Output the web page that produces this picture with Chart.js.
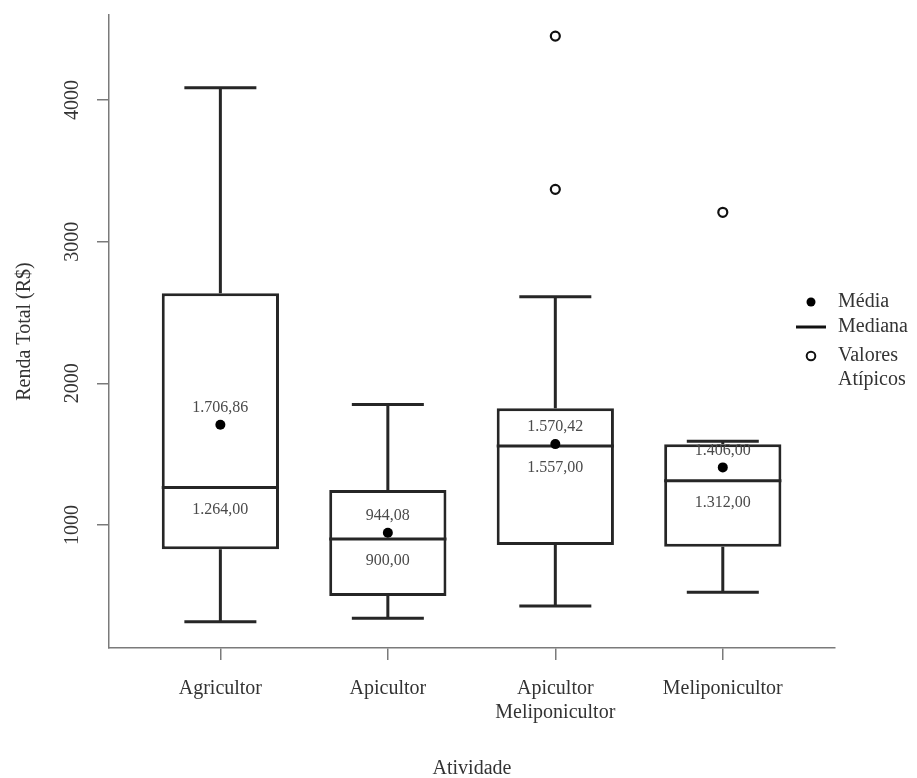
<!DOCTYPE html>
<html lang="pt-BR">
<head>
<meta charset="utf-8">
<title>Renda Total por Atividade</title>
<script src="https://cdn.jsdelivr.net/npm/chart.js@4.4.1/dist/chart.umd.min.js"></script>
<style>
  html, body { margin: 0; padding: 0; background: #ffffff; }
  canvas { display: block; }
</style>
</head>
<body>
<canvas id="chart" width="917" height="778"></canvas>
<script>
// Renda total (R$) por atividade: resumo de cinco números, média e valores atípicos
const categories = ['Agricultor', 'Apicultor', ['Apicultor', 'Meliponicultor'], 'Meliponicultor'];
const whiskerLow  = [317, 341, 428, 524];
const q1          = [828, 498, 858, 846];
const median      = [1264.00, 900.00, 1557.00, 1312.00];
const q3          = [2635, 1247, 1823, 1569];
const whiskerHigh = [4086, 1851, 2611, 1590];
const mean        = [1706.86, 944.08, 1570.42, 1406.00];
const outliers    = [[], [], [4451, 3369], [3207]];
const yTicks      = [1000, 2000, 3000, 4000];
const legendItems = ['Média', 'Mediana', ['Valores', 'Atípicos']];

const SERIF = '"Liberation Serif", "Times New Roman", serif';
const INK = '#262626';
const AXIS = '#7a7a7a';
const TEXT = '#333333';
const BOX_W = 0.7;   // box width, in category units
const CAP_W = 0.43;  // whisker cap width, in category units

// número no formato brasileiro: 1.706,86
function fmtBR(v) {
  const [int, dec] = v.toFixed(2).split('.');
  return int.replace(/\B(?=(\d{3})+(?!\d))/g, '.') + ',' + dec;
}

const boxData = categories.map((c, i) => ({ x: i, y: [q1[i], q3[i]] }));
const meanData = mean.map((m, i) => ({ x: i, y: m }));
const outlierData = [];
outliers.forEach((list, i) => list.forEach(v => outlierData.push({ x: i, y: v })));

// medians, whiskers and caps, drawn right after the boxes
const boxParts = {
  id: 'boxParts',
  afterDatasetDraw(chart, args) {
    if (args.index !== 0) return;
    const { ctx, scales: { x, y } } = chart;
    ctx.save();
    ctx.strokeStyle = INK;
    ctx.lineWidth = 3;
    ctx.lineCap = 'butt';
    categories.forEach((c, i) => {
      const cx = x.getPixelForValue(i);
      const capL = x.getPixelForValue(i - CAP_W / 2);
      const capR = x.getPixelForValue(i + CAP_W / 2);
      const boxL = x.getPixelForValue(i - BOX_W / 2);
      const boxR = x.getPixelForValue(i + BOX_W / 2);
      ctx.beginPath();
      // upper whisker
      ctx.moveTo(cx, y.getPixelForValue(q3[i]));
      ctx.lineTo(cx, y.getPixelForValue(whiskerHigh[i]));
      ctx.moveTo(capL, y.getPixelForValue(whiskerHigh[i]));
      ctx.lineTo(capR, y.getPixelForValue(whiskerHigh[i]));
      // lower whisker
      ctx.moveTo(cx, y.getPixelForValue(q1[i]));
      ctx.lineTo(cx, y.getPixelForValue(whiskerLow[i]));
      ctx.moveTo(capL, y.getPixelForValue(whiskerLow[i]));
      ctx.lineTo(capR, y.getPixelForValue(whiskerLow[i]));
      // median
      ctx.moveTo(boxL, y.getPixelForValue(median[i]));
      ctx.lineTo(boxR, y.getPixelForValue(median[i]));
      ctx.stroke();
    });
    ctx.restore();
  }
};

// value labels, rotated y tick labels and the side legend
const annotations = {
  id: 'annotations',
  afterDraw(chart) {
    const { ctx, scales: { x, y } } = chart;
    ctx.save();

    // mean above its dot, median below its line
    ctx.font = '16px ' + SERIF;
    ctx.fillStyle = '#4a4a4a';
    ctx.textAlign = 'center';
    ctx.textBaseline = 'middle';
    categories.forEach((c, i) => {
      const cx = x.getPixelForValue(i);
      ctx.fillText(fmtBR(mean[i]), cx, y.getPixelForValue(mean[i]) - 17);
      ctx.fillText(fmtBR(median[i]), cx, y.getPixelForValue(median[i]) + 22);
    });

    // y tick labels, written along the axis
    ctx.font = '20px ' + SERIF;
    ctx.fillStyle = TEXT;
    y.ticks.forEach(t => {
      ctx.save();
      ctx.translate(73, y.getPixelForValue(t.value));
      ctx.rotate(-Math.PI / 2);
      ctx.fillText(String(t.value), 0, 0);
      ctx.restore();
    });

    // legend
    const lx = 811, tx = 838;
    const rows = [302, 327, 356];
    ctx.textAlign = 'left';
    ctx.font = '20px ' + SERIF;
    ctx.fillStyle = TEXT;
    legendItems.forEach((label, k) => {
      const lines = Array.isArray(label) ? label : [label];
      lines.forEach((ln, j) => ctx.fillText(ln, tx, rows[k] + j * 24));
    });
    ctx.fillStyle = '#000';
    ctx.beginPath();
    ctx.arc(lx, rows[0], 4.5, 0, Math.PI * 2);
    ctx.fill();
    ctx.strokeStyle = '#111';
    ctx.lineWidth = 3;
    ctx.beginPath();
    ctx.moveTo(796, rows[1]);
    ctx.lineTo(826, rows[1]);
    ctx.stroke();
    ctx.lineWidth = 2;
    ctx.fillStyle = '#fff';
    ctx.beginPath();
    ctx.arc(lx, rows[2], 4.3, 0, Math.PI * 2);
    ctx.fill();
    ctx.stroke();

    ctx.restore();
  }
};

new Chart(document.getElementById('chart'), {
  type: 'bar',
  data: {
    datasets: [
      {
        label: 'Caixa',
        data: boxData,
        backgroundColor: '#ffffff',
        borderColor: INK,
        borderWidth: 3,
        borderSkipped: false,
        categoryPercentage: 1,
        barPercentage: BOX_W,
        order: 3
      },
      {
        type: 'scatter',
        label: 'Média',
        data: meanData,
        pointStyle: 'circle',
        pointRadius: 5,
        pointBackgroundColor: '#000',
        pointBorderWidth: 0,
        order: 2
      },
      {
        type: 'scatter',
        label: 'Valores Atípicos',
        data: outlierData,
        pointStyle: 'circle',
        pointRadius: 4.5,
        pointBackgroundColor: '#fff',
        pointBorderColor: '#111',
        pointBorderWidth: 2.2,
        order: 1
      }
    ]
  },
  options: {
    responsive: false,
    animation: false,
    events: [],
    layout: { padding: { top: 15, right: 82, bottom: 0, left: 0 } },
    plugins: {
      legend: { display: false },
      tooltip: { enabled: false }
    },
    scales: {
      x: {
        type: 'linear',
        min: -0.665,
        max: 3.67,
        offset: false,
        afterBuildTicks(scale) { scale.ticks = categories.map((c, i) => ({ value: i })); },
        afterFit(scale) { scale.height = 130; },
        grid: {
          display: true,
          offset: false,
          drawOnChartArea: false,
          drawTicks: true,
          tickLength: 12,
          color: AXIS,
          lineWidth: 1.5
        },
        border: { display: true, color: AXIS, width: 1.5 },
        ticks: {
          autoSkip: false,
          maxRotation: 0,
          minRotation: 0,
          padding: 17,
          color: TEXT,
          font: { family: SERIF, size: 20, lineHeight: 1.2 },
          callback: v => categories[v]
        },
        title: {
          display: true,
          text: 'Atividade',
          color: TEXT,
          font: { family: SERIF, size: 20 },
          padding: { top: 0, bottom: -3 }
        }
      },
      y: {
        type: 'linear',
        min: 131,
        max: 4600,
        afterBuildTicks(scale) { scale.ticks = yTicks.map(v => ({ value: v })); },
        afterFit(scale) { scale.width = 109; },
        grid: {
          display: true,
          drawOnChartArea: false,
          drawTicks: true,
          tickLength: 12,
          color: AXIS,
          lineWidth: 1.5
        },
        border: { display: true, color: AXIS, width: 1.5 },
        ticks: { display: false },
        title: {
          display: true,
          text: 'Renda Total (R$)',
          color: TEXT,
          font: { family: SERIF, size: 20 },
          padding: { top: 13, bottom: 0 }
        }
      }
    }
  },
  plugins: [boxParts, annotations]
});
</script>
</body>
</html>
